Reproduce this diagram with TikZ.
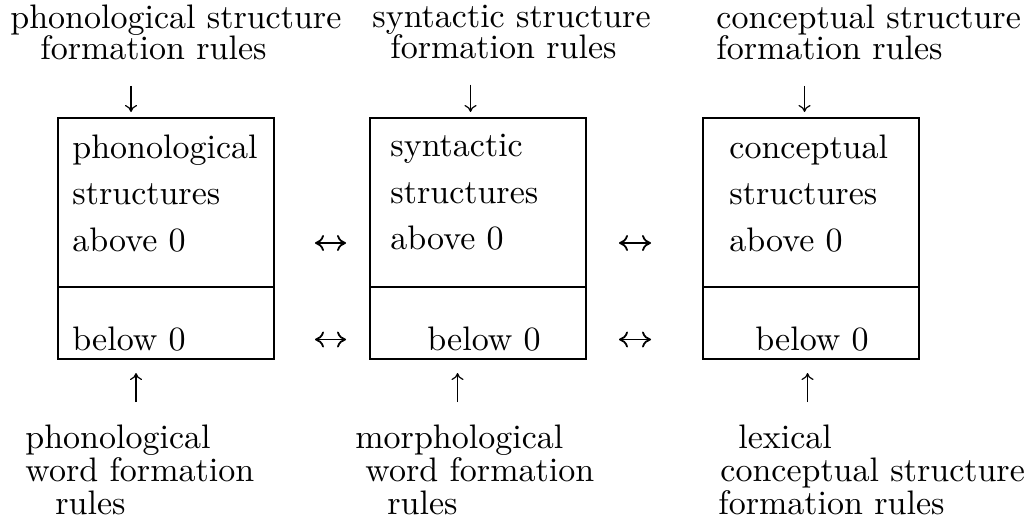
\documentclass[tikz,border=0pt]{standalone}
\usepackage{fontspec}
\setmainfont{lmroman10-regular.otf}
\usetikzlibrary{positioning,arrows.meta}
\begin{document}
\begin{tikzpicture}[x=0.5pt, y=-0.5pt, font=\fontsize{17}{15.5}\selectfont,
    layer/.style={draw, line width=0.8pt, minimum width=108pt, inner sep=0pt, outer sep=0pt},
    upper/.style={layer, minimum height=84.5pt},
    lower/.style={layer, minimum height=36pt},
    rules/.style={align=left, inner sep=0pt},
    inside/.style={rules, font=\fontsize{17}{23.25}\selectfont},
    down/.style={-{To[length=3.5pt,width=6pt]}, line width=0.6pt, shorten <=12.5pt, shorten >=3pt},
    up/.style={-{To[length=3.5pt,width=6pt]}, line width=0.6pt, shorten <=11pt, shorten >=7pt},
    link/.style={{To[length=4.5pt,width=8pt]}-{To[length=4.5pt,width=8pt]}, line width=0.9pt}]
  \useasboundingbox (0,0) rectangle (1028,520);

  \node[upper] (pu) at (166,202.5) {};
  \node[lower, below=0pt of pu] (pl) {};
  \node[upper] (su) at (478,202.5) {};
  \node[lower, below=0pt of su] (sl) {};
  \node[upper] (cu) at (811,202.5) {};
  \node[lower, below=0pt of cu] (cl) {};

  \node[inside, below right=8pt and 7pt of pu.north west] (pabove) {phonological\\structures\\above 0};
  \node[inside, below right=8pt and 10pt of su.north west] (sabove) {syntactic\\structures\\above 0};
  \node[inside, below right=8pt and 13pt of cu.north west] (cabove) {conceptual\\structures\\above 0};
  \node[inside, below right=19.5pt and 7pt of pl.north west] (pbelow) {below 0};
  \node[inside, below right=19.5pt and 28.5pt of sl.north west] (sbelow) {below 0};
  \node[inside, below right=19.5pt and 26pt of cl.north west] (cbelow) {below 0};

  \node[rules, anchor=north west] (ptop) at (10,5) {phonological structure\\\hspace*{15pt}formation rules};
  \node[rules, anchor=north west] (stop) at (372,5) {syntactic structure\\\hspace*{9pt}formation rules};
  \node[rules, anchor=north west] (ctop) at (716,5) {conceptual structure\\formation rules};
  \node[rules, anchor=north west, font=\fontsize{17}{16.5}\selectfont] (pbot) at (25,424) {phonological\\word formation\\\hspace*{15pt}rules};
  \node[rules, anchor=north west, font=\fontsize{17}{16.5}\selectfont] (sbot) at (355,424) {morphological\\\hspace*{5pt}word formation\\\hspace*{16pt}rules};
  \node[rules, anchor=north west, font=\fontsize{17}{16.5}\selectfont] (cbot) at (718,424) {\hspace*{10pt}lexical\\\hspace*{1pt}conceptual structure\\formation rules};

  \coordinate (pin) at ([xshift=-17.5pt]pu.north);
  \coordinate (sin) at ([xshift=-3.75pt]su.north);
  \coordinate (cin) at ([xshift=-3.25pt]cu.north);
  \coordinate (pword) at ([xshift=-15pt]pl.south);
  \coordinate (sword) at ([xshift=-10.25pt]sl.south);
  \coordinate (cword) at ([xshift=-1.75pt]cl.south);

  \draw[down] (ptop.south -| pin) -- (pin);
  \draw[down] (stop.south -| sin) -- (sin);
  \draw[down] (ctop.south -| cin) -- (cin);
  \draw[up] (pbot.north -| pword) -- (pword);
  \draw[up] (sbot.north -| sword) -- (sword);
  \draw[up] (cbot.north -| cword) -- (cword);

  \draw[link, shorten <=20.5pt, shorten >=12pt] ([yshift=-20.25pt]pu.east) -- ([yshift=-20.25pt]su.west);
  \draw[link, shorten <=16.5pt, shorten >=26pt] ([yshift=-20.25pt]su.east) -- ([yshift=-20.25pt]cu.west);
  \draw[link, shorten <=20.5pt, shorten >=12pt] ([yshift=-8.25pt]pl.east) -- ([yshift=-8.25pt]sl.west);
  \draw[link, shorten <=16.5pt, shorten >=26pt] ([yshift=-8.25pt]sl.east) -- ([yshift=-8.25pt]cl.west);
\end{tikzpicture}
\end{document}
